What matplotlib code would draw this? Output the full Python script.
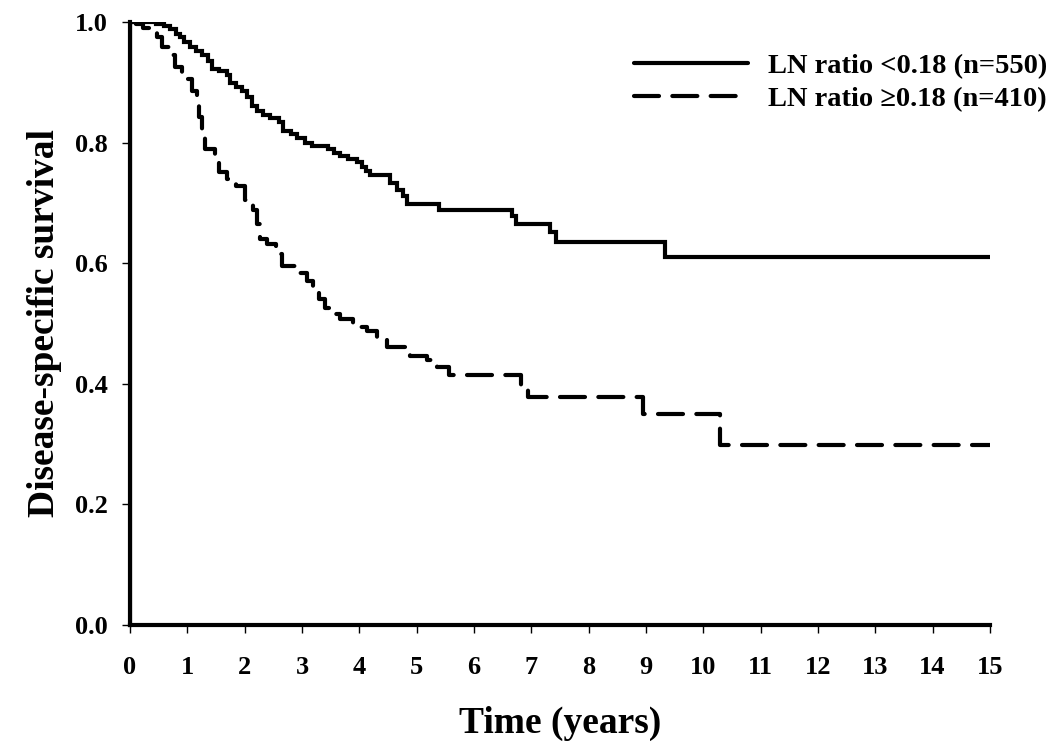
import numpy as np
import matplotlib
matplotlib.use("Agg")
from matplotlib import pyplot as plt

# Kaplan-Meier step data (time in years, survival after step)
t_low = [0, 0.45, 0.6, 0.7, 0.8, 0.87, 0.95, 1.05, 1.15, 1.25, 1.36, 1.43, 1.55,
         1.69, 1.74, 1.85, 1.95, 2.04, 2.13, 2.22, 2.32, 2.45, 2.6, 2.67, 2.8,
         2.91, 3.05, 3.17, 3.45, 3.55, 3.66, 3.8, 3.96, 4.05, 4.12, 4.19, 4.54,
         4.65, 4.76, 4.83, 5.39, 6.67, 6.73, 7.33, 7.43, 9.33, 15]
s_low = [1.0, 0.997, 0.993, 0.988, 0.98, 0.975, 0.967, 0.958, 0.952, 0.945, 0.935,
         0.922, 0.918, 0.912, 0.898, 0.893, 0.885, 0.875, 0.86, 0.852, 0.845, 0.84,
         0.834, 0.82, 0.814, 0.808, 0.8, 0.795, 0.79, 0.783, 0.778, 0.773, 0.767,
         0.76, 0.753, 0.746, 0.733, 0.722, 0.712, 0.698, 0.688, 0.678, 0.665,
         0.652, 0.635, 0.61, 0.61]

t_high = [0, 0.1, 0.23, 0.35, 0.47, 0.56, 0.7, 0.79, 0.9, 0.99, 1.08, 1.17, 1.2,
          1.26, 1.3, 1.48, 1.55, 1.69, 1.85, 2.0, 2.15, 2.22, 2.27, 2.39, 2.55,
          2.65, 2.9, 3.08, 3.2, 3.3, 3.4, 3.49, 3.66, 3.89, 4.13, 4.3, 4.48, 4.88,
          5.18, 5.35, 5.56, 6.82, 6.95, 8.95, 10.29, 15]
s_high = [1.0, 0.997, 0.99, 0.985, 0.975, 0.958, 0.945, 0.925, 0.915, 0.905, 0.885,
          0.865, 0.842, 0.818, 0.79, 0.775, 0.752, 0.74, 0.728, 0.705, 0.688, 0.665,
          0.64, 0.632, 0.615, 0.595, 0.583, 0.57, 0.556, 0.54, 0.525, 0.515, 0.507,
          0.494, 0.488, 0.475, 0.461, 0.446, 0.44, 0.428, 0.415, 0.397, 0.378,
          0.35, 0.298, 0.298]

labels = ["LN ratio <0.18 (n=550)", "LN ratio \u22650.18 (n=410)"]
xticks = list(range(0, 16))
yticks = [0.0, 0.2, 0.4, 0.6, 0.8, 1.0]

plt.rcParams['font.family'] = ['Liberation Serif', 'DejaVu Serif']
plt.rcParams['font.weight'] = 'bold'

fig = plt.figure(figsize=(10.5, 7.53), dpi=100)
ax = fig.add_axes([0.1238, 0.170, 0.819, 0.8008])

lw = 3.0
ax.step(t_low, s_low, where='post', color='black', lw=lw, label=labels[0],
        solid_capstyle='round', solid_joinstyle='miter')
ax.step(t_high, s_high, where='post', color='black', lw=lw, label=labels[1],
        dashes=(6, 3.2), dash_capstyle='round')
# vertical drop at time 0 (both curves start at 1.0)
ax.plot([0, 0], [0, 1.0], color='black', lw=lw)

ax.set_xlim(0, 15)
ax.set_ylim(0, 1.0)
ax.set_xticks(xticks)
ax.set_yticks(yticks)
ax.set_yticklabels(['%.1f' % v for v in yticks])

for side in ['top', 'right']:
    ax.spines[side].set_visible(False)
for side in ['left', 'bottom']:
    ax.spines[side].set_linewidth(lw)
    ax.spines[side].set_capstyle('projecting')

ax.tick_params(axis='x', direction='out', length=6, width=1, pad=16, labelsize=19)
ax.tick_params(axis='y', direction='out', length=6, width=1, pad=10, labelsize=19)
for lab in ax.get_xticklabels() + ax.get_yticklabels():
    lab.set_fontweight('bold')

ax.set_xlabel('Time (years)', fontsize=27, fontweight='bold', labelpad=20)
ax.set_ylabel('Disease-specific survival', fontsize=27, fontweight='bold', labelpad=9)

leg = ax.legend(loc='upper right', bbox_to_anchor=(0.997, 0.930), bbox_transform=fig.transFigure,
                frameon=False, fontsize=20.5, handlelength=4.0, handletextpad=0.7,
                labelspacing=0.25, borderaxespad=0, borderpad=0)
for txt in leg.get_texts():
    txt.set_fontweight('bold')

fig.savefig('out.png', dpi=100)
